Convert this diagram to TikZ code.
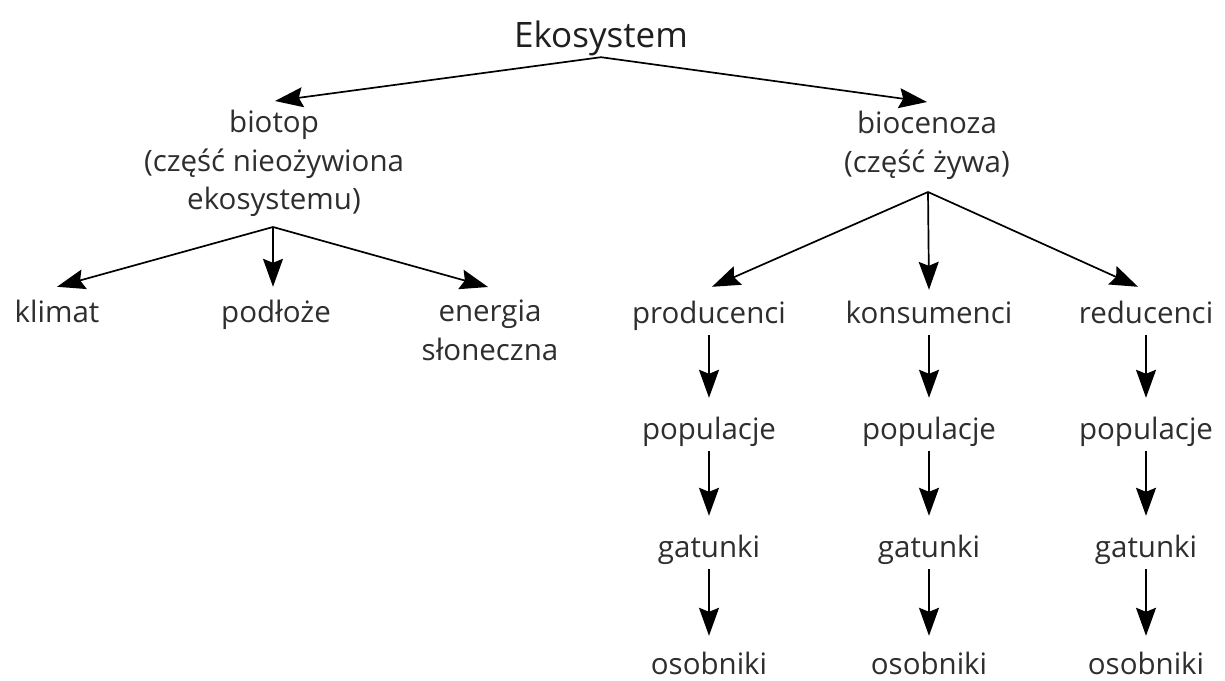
\documentclass[tikz,border=0pt]{standalone}
\usepackage{fontspec}
\setmainfont{Open Sans}
\usetikzlibrary{arrows.meta}
\begin{document}
\begin{tikzpicture}[x=1pt,y=-1pt,
  lbl/.style={inner sep=0pt, text=black!82, font=\fontsize{29.5}{38.5}\selectfont, align=center},
  one/.style={lbl, anchor=base, text height=22pt, text depth=7pt},
  multi/.style={lbl, anchor=north},
  arr/.style={draw=black, line width=1.7pt, -{Stealth[length=28pt,width=20pt,inset=4pt]}},
  varr/.style={arr, shorten <=5pt, shorten >=19pt}
  ]
\useasboundingbox (0,0) rectangle (1225,680);
\fill[white] (0,0) rectangle (1225,680);

% top
\node[one, font=\fontsize{35}{40}\selectfont, text depth=10pt, text=black!88] (eko) at (601,47) {Ekosystem};
\node[multi] (biotop) at (274,110) {biotop\\(część nieożywiona\\ekosystemu)};
\node[multi] (biocen) at (927,111) {biocenoza\\(część żywa)};

% biotop children
\node[one] (klimat) at (57,322) {klimat};
\node[one] (podloze) at (276,322) {podłoże};
\node[multi] (energia) at (490,300) {energia\\słoneczna};

% biocenoza children
\node[one] (prod) at (709,323) {producenci};
\node[one] (kons) at (929,323) {konsumenci};
\node[one] (red) at (1146,323) {reducenci};

\foreach \c/\x in {p/709, k/929, r/1146}{
  \node[one] (pop\c) at (\x,439) {populacje};
  \node[one] (gat\c) at (\x,557) {gatunki};
  \node[one] (osob\c) at (\x,674) {osobniki};
}

% fan origins
\coordinate (bto) at (273,227);
\coordinate (bco) at (928,192);

% connectors
\draw[arr] (eko.south) -- ([xshift=1pt,yshift=9pt]biotop.north);
\draw[arr] (eko.south) -- ([yshift=9pt]biocen.north);

\draw[arr] (bto) -- ([yshift=13pt]klimat.north);
\draw[arr] (bto) -- ([xshift=-3pt,yshift=13pt]podloze.north);
\draw[arr] (bto) -- ([xshift=-2pt,yshift=13pt]energia.north);

\draw[arr] (bco) -- ([xshift=3pt,yshift=14pt]prod.north);
\draw[arr] (bco) -- ([yshift=11pt]kons.north);
\draw[arr] (bco) -- ([xshift=-8pt,yshift=14pt]red.north);

\draw[varr] (prod.south) -- (popp.north);
\draw[varr] (kons.south) -- (popk.north);
\draw[varr] (red.south) -- (popr.north);
\foreach \c in {p,k,r}{
  \draw[varr] (pop\c.south) -- (gat\c.north);
  \draw[varr, shorten >=16pt] (gat\c.south) -- (osob\c.north);
}
\end{tikzpicture}
\end{document}
